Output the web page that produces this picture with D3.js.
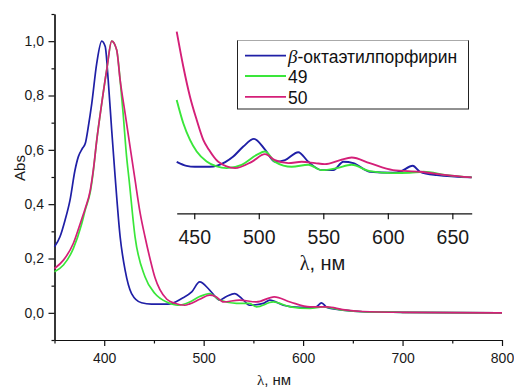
<!DOCTYPE html>
<html>
<head>
<meta charset="utf-8">
<script src="https://cdn.jsdelivr.net/npm/d3@7"></script>
<style>
  body { margin: 0; background: #fff; }
  svg { display: block; font-family: "Liberation Sans", Arial, sans-serif; }
  .axis path, .axis line { stroke: #111; stroke-width: 1.2; }
  .axis text { fill: #1a1a1a; }
</style>
</head>
<body>
<svg id="chart" width="514" height="388"></svg>
<script>
// series: [wavelength nm, absorbance]
const seriesNames = ["β-октаэтилпорфирин", "49", "50"];
const seriesColors = ["#1f1fa6", "#3ae63a", "#d41f78"];

const porphyrinMain = [[350,0.243],[355.5,0.28],[360.6,0.341],[365.6,0.415],[370.6,0.525],[374,0.575],[378,0.605],[381,0.624],[384,0.685],[387.5,0.771],[392.5,0.919],[397.5,1.0],[401,0.98],[404,0.857],[407.5,0.673],[411,0.5],[416,0.28],[421,0.157],[427.5,0.071],[437.5,0.037],[447.5,0.032],[464,0.032],[478,0.053],[488,0.077],[496,0.114],[506,0.084],[516,0.047],[523,0.06],[531,0.071],[540,0.047],[546,0.028],[560,0.035],[566.5,0.047],[580,0.028],[597,0.02],[613,0.022],[618.5,0.037],[624,0.02],[640,0.01],[660,0.004],[700,0.002],[800,0]];
const compound49Main = [[350,0.151],[359,0.176],[369,0.237],[377,0.323],[381,0.38],[386,0.445],[389,0.52],[392.5,0.636],[397.5,0.771],[402.5,0.894],[407.5,1.0],[412.5,0.968],[416,0.857],[419,0.734],[422.5,0.575],[425,0.49],[431,0.28],[441,0.133],[451,0.071],[464,0.038],[474,0.028],[486,0.04],[496,0.06],[506,0.071],[516,0.047],[533,0.035],[546,0.035],[553,0.022],[570,0.04],[587,0.022],[607,0.016],[620,0.022],[640,0.01],[660,0.004],[700,0.002],[800,0]];
const compound50Main = [[350,0.163],[359,0.194],[369,0.256],[377,0.341],[381,0.385],[386,0.452],[389,0.525],[392.5,0.636],[397.5,0.771],[402.5,0.894],[407.5,1.0],[412.5,0.968],[416,0.857],[421,0.734],[426,0.611],[431,0.489],[436,0.37],[441,0.28],[446,0.2],[451,0.13],[456,0.085],[463,0.05],[471,0.035],[481,0.028],[486,0.033],[496,0.05],[506,0.065],[512,0.06],[520,0.04],[536,0.047],[553,0.04],[571,0.059],[587,0.04],[607,0.022],[624,0.022],[640,0.012],[660,0.005],[700,0.002],[800,0]];

const porphyrinInset = [[436.4,0.055],[444,0.043],[450.5,0.04],[462,0.04],[474,0.054],[480,0.07],[488,0.101],[496.3,0.124],[505,0.091],[512.6,0.055],[520.3,0.06],[530.6,0.084],[538.4,0.055],[548.8,0.03],[557.8,0.03],[565.5,0.055],[573.3,0.051],[586,0.025],[604,0.022],[609.5,0.025],[619.3,0.043],[625,0.025],[638,0.015],[665,0.008]];
const compound49Inset = [[436.4,0.241],[441.5,0.171],[446.7,0.121],[451.9,0.086],[459.6,0.056],[467.4,0.041],[475,0.036],[486.7,0.046],[498.4,0.076],[504.8,0.086],[512.6,0.055],[525.5,0.04],[538.4,0.046],[548.8,0.03],[560.4,0.036],[572,0.046],[586,0.027],[604,0.021],[617,0.022],[627.5,0.025],[645.7,0.015],[665,0.008]];
const compound50Inset = [[436.4,0.447],[441.5,0.342],[446.7,0.251],[451.9,0.181],[457,0.121],[461.4,0.091],[468.6,0.055],[481.6,0.036],[494.5,0.055],[504.8,0.078],[512.6,0.06],[522.9,0.051],[533.3,0.055],[543.6,0.051],[551.3,0.048],[563,0.06],[572,0.068],[586,0.051],[604,0.03],[625,0.025],[645.7,0.015],[665,0.008]];

const mainXTicks = [400, 500, 600, 700, 800];
const mainXMinor = [350, 450, 550, 650, 750];
const mainYTicks = [0, 0.2, 0.4, 0.6, 0.8, 1.0];
const mainYMinor = [-0.1, 0.1, 0.3, 0.5, 0.7, 0.9, 1.1];
const insetXTicks = [450, 500, 550, 600, 650];

const svg = d3.select("#chart");
const comma = d => d3.format(".1f")(d).replace(".", ",");

// main scales
const x = d3.scaleLinear().domain([350, 800]).range([54.5, 502]);
const y = d3.scaleLinear().domain([-0.1, 1.1]).range([340, 14]);

// inset scales
const xi = d3.scaleLinear().domain([436.4, 665]).range([176.7, 471.7]);
const yi = d3.scaleLinear().domain([-0.1, 0.5]).range([213.3, 14]);

// axes - main
svg.append("g").attr("class", "axis").attr("transform", "translate(54.5,0)")
    .call(d3.axisLeft(y).tickValues(mainYMinor).tickSize(3).tickSizeOuter(0).tickFormat(""));
svg.append("g").attr("class", "axis").attr("transform", "translate(54.5,0)")
    .call(d3.axisLeft(y).tickValues(mainYTicks).tickSize(6).tickSizeOuter(0).tickPadding(4.5).tickFormat(comma))
    .call(g => g.selectAll("text").style("font-size", "14px"));

svg.append("g").attr("class", "axis").attr("transform", "translate(0,340)")
    .call(d3.axisBottom(x).tickValues(mainXMinor).tickSize(3.5).tickSizeOuter(0).tickFormat(""));
svg.append("g").attr("class", "axis").attr("transform", "translate(0,340)")
    .call(d3.axisBottom(x).tickValues(mainXTicks).tickSize(6).tickSizeOuter(0).tickPadding(6.8))
    .call(g => g.selectAll("text").style("font-size", "14px"));

// axis - inset (bottom only)
svg.append("g").attr("class", "axis").attr("transform", "translate(0,213.3)")
    .call(d3.axisBottom(xi).tickValues(insetXTicks).tickSize(6).tickSizeOuter(0).tickPadding(10.5))
    .call(g => g.selectAll("text").style("font-size", "19.5px"));

// axis titles
svg.append("text")
    .attr("transform", "translate(25,168) rotate(-90)")
    .attr("text-anchor", "middle")
    .style("font-size", "15px").attr("fill", "#1a1a1a")
    .text("Abs");

function lambdaLabel(cx, cy, size) {
    const t = svg.append("text").attr("x", cx).attr("y", cy)
        .attr("text-anchor", "middle").style("font-size", size + "px").attr("fill", "#1a1a1a");
    t.append("tspan").style("font-family", "'Liberation Serif', serif").text("λ");
    t.append("tspan").text(", нм");
}
lambdaLabel(274, 385, 15);
lambdaLabel(322.5, 270, 20);

// curves
const mainLine = d3.line().x(d => x(d[0])).y(d => y(d[1])).curve(d3.curveMonotoneX);
const insetLine = d3.line().x(d => xi(d[0])).y(d => yi(d[1])).curve(d3.curveMonotoneX);

const mainSeries = [porphyrinMain, compound49Main, compound50Main];
const insetSeries = [porphyrinInset, compound49Inset, compound50Inset];

// draw order: blue, green, magenta on top
svg.append("g").selectAll("path").data(mainSeries).join("path")
    .attr("d", mainLine)
    .attr("fill", "none")
    .attr("stroke", (d, i) => seriesColors[i])
    .attr("stroke-width", 1.7)
    .attr("stroke-linejoin", "round");

svg.append("g").selectAll("path").data(insetSeries).join("path")
    .attr("d", insetLine)
    .attr("fill", "none")
    .attr("stroke", (d, i) => seriesColors[i])
    .attr("stroke-width", 1.9)
    .attr("stroke-linejoin", "round");

// legend
const legend = svg.append("g");
legend.append("rect")
    .attr("x", 237.5).attr("y", 40.5).attr("width", 231).attr("height", 68.5)
    .attr("fill", "#fff").attr("stroke", "#222").attr("stroke-width", 1);
legend.append("line")
    .attr("x1", 237.5).attr("x2", 468.5).attr("y1", 40.5).attr("y2", 40.5)
    .attr("stroke", "#aaa").attr("stroke-width", 1.2);

const rowY = [55.7, 76, 96.8];
seriesNames.forEach((name, i) => {
    legend.append("line")
        .attr("x1", 245).attr("x2", 286).attr("y1", rowY[i]).attr("y2", rowY[i])
        .attr("stroke", seriesColors[i]).attr("stroke-width", 1.8);
    const t = legend.append("text")
        .attr("x", 288).attr("y", rowY[i] + 6.8)
        .style("font-size", "17.5px").attr("fill", "#111");
    if (i === 0) {
        t.append("tspan").style("font-family", "'Liberation Serif', serif")
            .style("font-style", "italic").style("font-size", "19px").text("β");
        t.append("tspan").text(name.slice(1));
    } else {
        t.text(name);
    }
});
</script>
</body>
</html>
